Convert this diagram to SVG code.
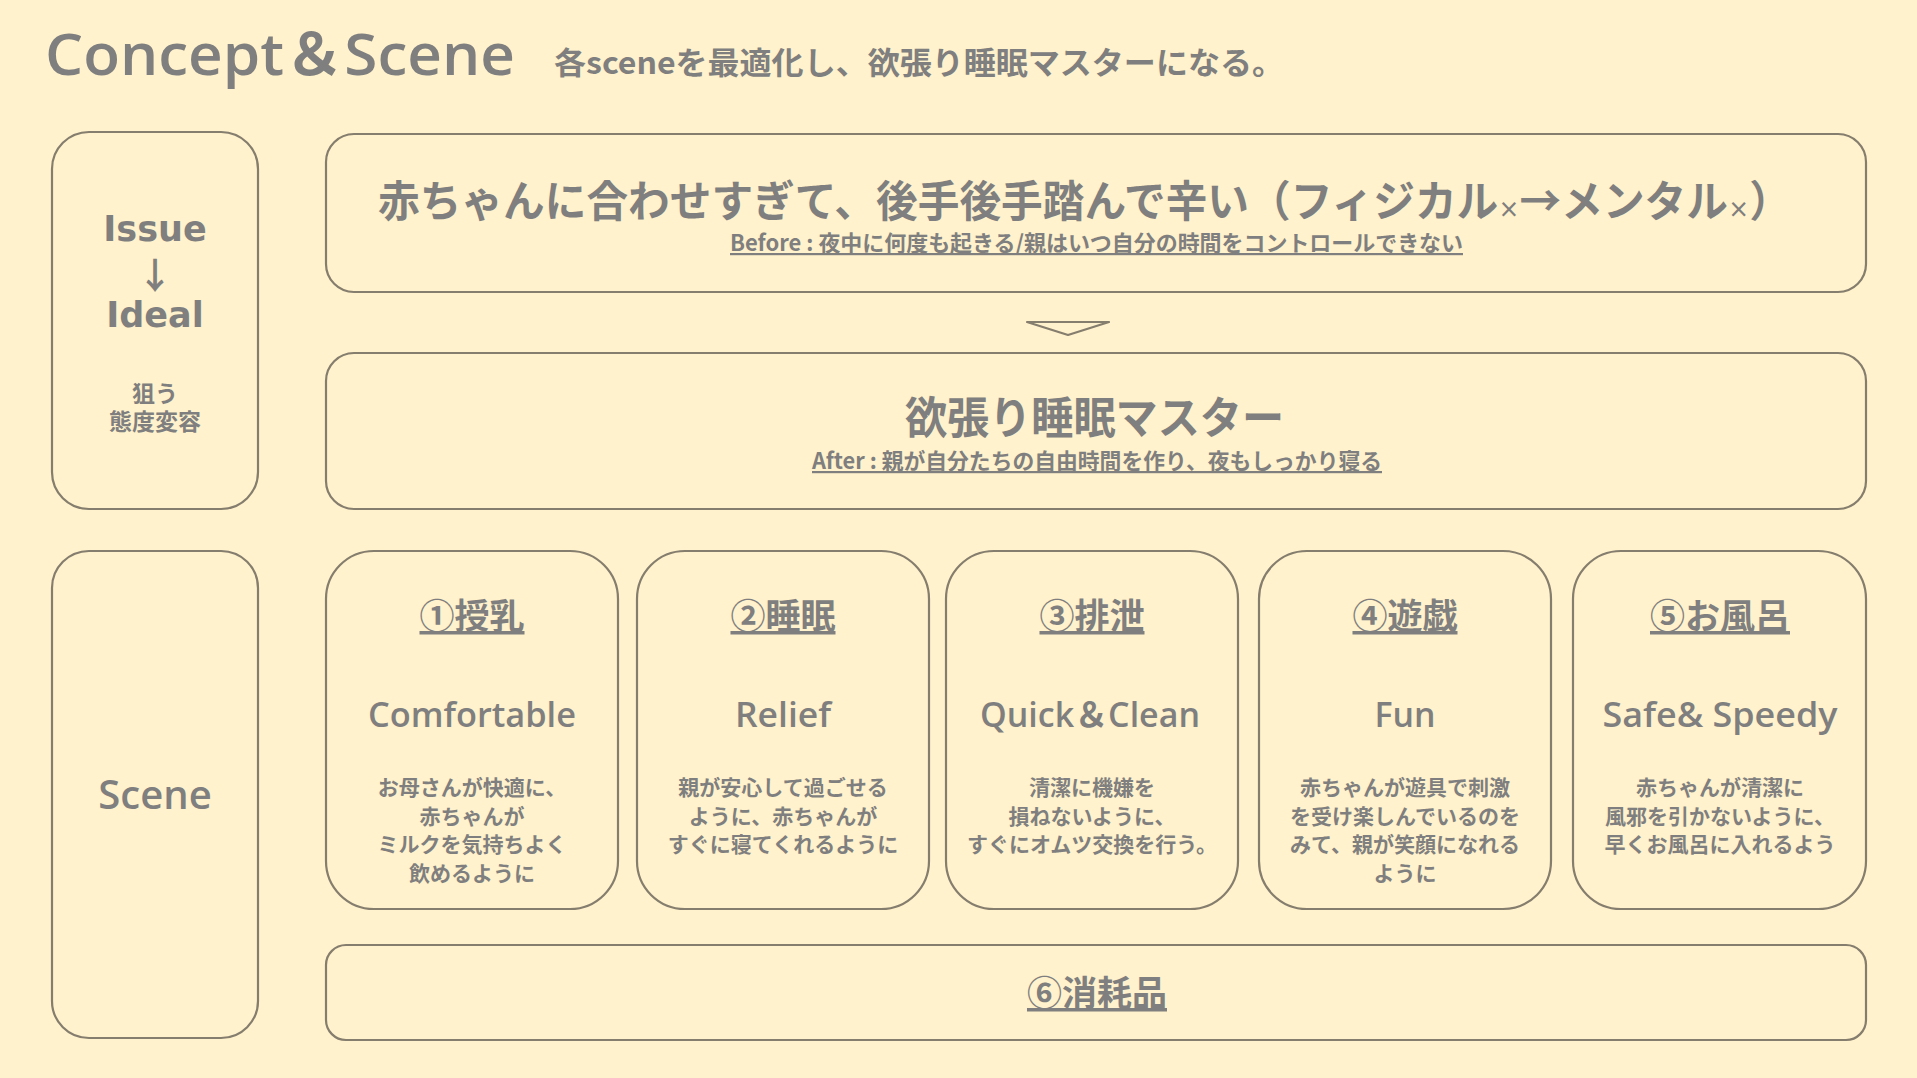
<svg xmlns="http://www.w3.org/2000/svg" width="1917" height="1078" viewBox="0 0 1917 1078">
<style>
.bg{fill:#FFF2CC}
.box{fill:#FFF2CC;stroke:#857D6D;stroke-width:2.2}
.t{fill:#7F7F7F;font-family:"Noto Sans CJK JP","Noto Sans",sans-serif;font-weight:700}
.en{fill:#7F7F7F;font-family:"Open Sans","Noto Sans CJK JP",sans-serif;font-weight:600}
.dv{fill:#7F7F7F;font-family:"DejaVu Sans",sans-serif;font-weight:700}
.c{text-anchor:middle}
.u{text-decoration:underline}
.d{font-size:21px}
.h{font-size:35px}
.lbl{font-size:34px}
</style>
<rect class="bg" x="0" y="0" width="1917" height="1078"/>

<g id="title">
<text class="en" x="45" y="75" font-size="58" font-weight="700" textLength="470" lengthAdjust="spacingAndGlyphs">Concept＆Scene</text>
<text class="t" x="554" y="74" font-size="31" textLength="730" lengthAdjust="spacingAndGlyphs">各sceneを最適化し、欲張り睡眠マスターになる。</text>
</g>

<g id="issue-label">
<rect class="box" x="52" y="132" width="206" height="377" rx="37"/>
<text class="dv c" x="155" y="241" font-size="35">Issue</text>
<text class="t c" x="155" y="289" font-size="36" font-weight="400">↓</text>
<text class="dv c" x="155" y="327" font-size="35">Ideal</text>
<text class="t c" x="155" y="402" font-size="23">狙う<tspan x="155" dy="28">態度変容</tspan></text>
</g>

<g id="before">
<rect class="box" x="326" y="134" width="1540" height="158" rx="28"/>
<text class="t" x="378" y="217" font-size="43" textLength="1413" lengthAdjust="spacingAndGlyphs">赤ちゃんに合わせすぎて、後手後手踏んで辛い（フィジカル<tspan font-size="22">×</tspan>→メンタル<tspan font-size="22">×</tspan>）</text>
<text class="t u" x="730" y="251" font-size="22" textLength="733" lengthAdjust="spacingAndGlyphs">Before : 夜中に何度も起きる/親はいつ自分の時間をコントロールできない</text>
</g>

<g id="after">
<rect class="box" x="326" y="353" width="1540" height="156" rx="28"/>
<text class="t" x="905" y="434" font-size="44" textLength="379" lengthAdjust="spacingAndGlyphs">欲張り睡眠マスター</text>
<text class="t u" x="812" y="469" font-size="22" textLength="570" lengthAdjust="spacingAndGlyphs">After : 親が自分たちの自由時間を作り、夜もしっかり寝る</text>
</g>

<g id="connectors">
<polygon points="1027,322 1109,322 1068,335" fill="none" stroke="#857D6D" stroke-width="2.2" stroke-linejoin="round"/>
</g>

<g id="scene-label">
<rect class="box" x="52" y="551" width="206" height="487" rx="37"/>
<text class="en c" x="155" y="809" font-size="40">Scene</text>
</g>

<g id="scene1">
<rect class="box" x="326" y="551" width="292" height="358" rx="48"/>
<text class="t c u h" x="472" y="629">①授乳</text>
<text class="en c lbl" x="472" y="727" textLength="208" lengthAdjust="spacingAndGlyphs">Comfortable</text>
<text class="t c d" x="472" y="795">お母さんが快適に、</text>
<text class="t c d" x="472" y="823.5">赤ちゃんが</text>
<text class="t c d" x="472" y="852">ミルクを気持ちよく</text>
<text class="t c d" x="472" y="880.5">飲めるように</text>
</g>

<g id="scene2">
<rect class="box" x="637" y="551" width="292" height="358" rx="48"/>
<text class="t c u h" x="783" y="629">②睡眠</text>
<text class="en c lbl" x="783" y="727" textLength="96" lengthAdjust="spacingAndGlyphs">Relief</text>
<text class="t c d" x="783" y="795">親が安心して過ごせる</text>
<text class="t c d" x="783" y="823.5">ように、赤ちゃんが</text>
<text class="t c d" x="783" y="852">すぐに寝てくれるように</text>
</g>

<g id="scene3">
<rect class="box" x="946" y="551" width="292" height="358" rx="48"/>
<text class="t c u h" x="1092" y="629">③排泄</text>
<text class="en c lbl" x="1090" y="727" textLength="220" lengthAdjust="spacingAndGlyphs">Quick＆Clean</text>
<text class="t c d" x="1092" y="795">清潔に機嫌を</text>
<text class="t c d" x="1092" y="823.5">損ねないように、</text>
<text class="t c d" x="1092" y="852">すぐにオムツ交換を行う。</text>
</g>

<g id="scene4">
<rect class="box" x="1259" y="551" width="292" height="358" rx="48"/>
<text class="t c u h" x="1405" y="629">④遊戯</text>
<text class="en c lbl" x="1405" y="727" textLength="61" lengthAdjust="spacingAndGlyphs">Fun</text>
<text class="t c d" x="1405" y="795">赤ちゃんが遊具で刺激</text>
<text class="t c d" x="1405" y="823.5">を受け楽しんでいるのを</text>
<text class="t c d" x="1405" y="852">みて、親が笑顔になれる</text>
<text class="t c d" x="1405" y="880.5">ように</text>
</g>

<g id="scene5">
<rect class="box" x="1573" y="551" width="293" height="358" rx="48"/>
<text class="t c u h" x="1720" y="629">⑤お風呂</text>
<text class="en c lbl" x="1720" y="727" textLength="235" lengthAdjust="spacingAndGlyphs">Safe&amp; Speedy</text>
<text class="t c d" x="1720" y="795">赤ちゃんが清潔に</text>
<text class="t c d" x="1720" y="823.5">風邪を引かないように、</text>
<text class="t c d" x="1720" y="852">早くお風呂に入れるよう</text>
</g>

<g id="scene6">
<rect class="box" x="326" y="945" width="1540" height="95" rx="20"/>
<text class="t c u h" x="1097" y="1006">⑥消耗品</text>
</g>
</svg>
